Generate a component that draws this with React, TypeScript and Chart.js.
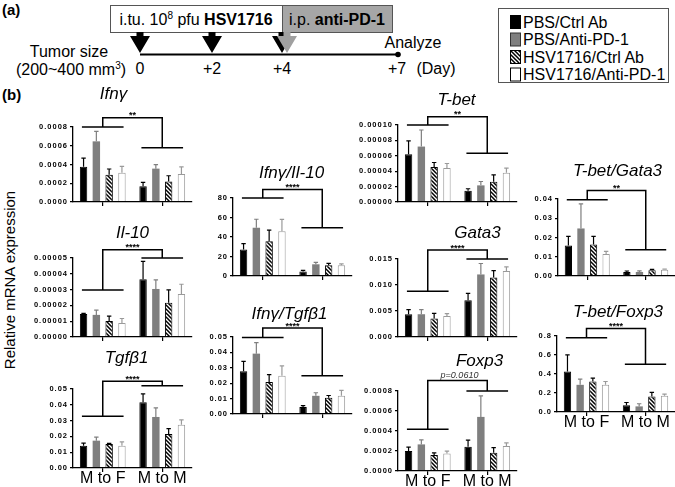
import React, { useEffect, useRef } from 'react';
import { Chart, registerables } from 'chart.js';

Chart.register(...registerables);

const FONT = '"Liberation Sans", Arial, Helvetica, sans-serif';

// ---------- data ----------
const groups = ['M to F', 'M to M'];
const seriesNames = ['PBS/Ctrl Ab', 'PBS/Anti-PD-1', 'HSV1716/Ctrl Ab', 'HSV1716/Anti-PD-1'];
const timelineDays = ['0', '+2', '+4', '+7'];

// values are [series][group]
const ifngMean = [[0.000377, 0.000167], [0.000647, 0.000356], [0.000292, 0.00022], [0.000313, 0.000299]];
const ifngErr = [[0.000092, 0.000043], [0.000107, 0.000042], [0.00006, 0.00006], [0.000067, 0.000075]];
const ifngBracket = [0.0008, 0.0009, 0.00058];
const ifngTicks = ['0.0000', '0.0002', '0.0004', '0.0006', '0.0008'];

const il10Mean = [[0.0000145, 0.0000366], [0.000014, 0.0000304], [0.0000102, 0.0000217], [0.0000089, 0.0000272]];
const il10Err = [[0.0000005, 0.0000113], [0.000003, 0.0000058], [0.000003, 0.0000081], [0.0000028, 0.0000062]];
const il10Bracket = [0.0000298, 0.0000553, 0.00005];
const il10Ticks = ['0.00000', '0.00001', '0.00002', '0.00003', '0.00004', '0.00005'];

const tgfMean = [[0.0141, 0.0416], [0.0173, 0.0323], [0.0152, 0.0215], [0.0141, 0.0274]];
const tgfErr = [[0.0017, 0.0053], [0.0023, 0.0057], [0.0004, 0.0034], [0.0024, 0.003]];
const tgfBracket = [0.0327, 0.0549, 0.0521];
const tgfTicks = ['0.00', '0.01', '0.02', '0.03', '0.04', '0.05'];

const ifngIl10Mean = [[27.3, 4.5], [49.5, 12], [35.6, 11], [46, 11]];
const ifngIl10Err = [[6, 1.2], [8.7, 2], [11.4, 2], [12, 1.5]];
const ifngIl10Bracket = [80, 88.6, 49.5];
const ifngIl10Ticks = ['0', '20', '40', '60', '80'];

const ifngTgfMean = [[0.0277, 0.0045], [0.0392, 0.0118], [0.0208, 0.0105], [0.0249, 0.0118]];
const ifngTgfErr = [[0.0065, 0.001], [0.0071, 0.002], [0.0048, 0.0015], [0.0063, 0.0036]];
const ifngTgfBracket = [0.0496, 0.0558, 0.0249];
const ifngTgfTicks = ['0.00', '0.01', '0.02', '0.03', '0.04', '0.05'];

const tbetMean = [[0.000062, 0.0000147], [0.000072, 0.0000216], [0.0000453, 0.0000263], [0.000044, 0.0000379]];
const tbetErr = [[0.0000173, 0.0000025], [0.0000215, 0.000005], [0.000006, 0.000009], [0.000006, 0.000006]];
const tbetBracket = [0.0001, 0.0001108, 0.0000634];
const tbetTicks = ['0.00000', '0.00002', '0.00004', '0.00006', '0.00008', '0.00010'];

const gata3Mean = [[0.00438, 0.00708], [0.00438, 0.01203], [0.00354, 0.01145], [0.00405, 0.01268]];
const gata3Err = [[0.0009, 0.0013], [0.0009, 0.0021], [0.001, 0.0013], [0.00045, 0.0008]];
const gata3Bracket = [0.00882, 0.01673, 0.015];
const gata3Ticks = ['0.000', '0.005', '0.010', '0.015'];

const foxp3Mean = [[0.000199, 0.000242], [0.000266, 0.000541], [0.000159, 0.000183], [0.000176, 0.000249]];
const foxp3Err = [[0.00004, 0.000067], [0.000046, 0.00021], [0.000023, 0.00005], [0.000023, 0.000033]];
const foxp3Bracket = [0.000418, 0.000906, 0.0008];
const foxp3Ticks = ['0.0000', '0.0002', '0.0004', '0.0006', '0.0008'];

const tbetGataMean = [[0.0158, 0.0021], [0.0247, 0.0021], [0.0164, 0.003], [0.0114, 0.0033]];
const tbetGataErr = [[0.0048, 0.0005], [0.0128, 0.0006], [0.0042, 0.0004], [0.0014, 0.0003]];
const tbetGataBracket = [0.0396, 0.0444, 0.0137];
const tbetGataTicks = ['0.00', '0.01', '0.02', '0.03', '0.04'];

const tbetFoxMean = [[0.426, 0.07], [0.286, 0.059], [0.321, 0.164], [0.286, 0.171]];
const tbetFoxErr = [[0.175, 0.03], [0.06, 0.028], [0.035, 0.042], [0.035, 0.018]];
const tbetFoxBracket = [0.782, 0.88, 0.503];
const tbetFoxTicks = ['0.0', '0.2', '0.4', '0.6', '0.8'];

// ---------- panel table (layout separate from data) ----------
type PanelSpec = {
  title: string;
  sig: string;
  mean: number[][];
  err: number[][];
  bracket: number[];
  ticks: string[];
  box: number[]; // plot area left, top, right, bottom (page px)
  titleDx: number;
  titleDy: number;
  showX: boolean;
};

const panels: PanelSpec[] = [
  { title: 'Ifnγ', sig: '**', mean: ifngMean, err: ifngErr, bracket: ifngBracket, ticks: ifngTicks, box: [73, 127, 192, 202], titleDx: -19, titleDy: -28, showX: false },
  { title: 'Il-10', sig: '****', mean: il10Mean, err: il10Err, bracket: il10Bracket, ticks: il10Ticks, box: [73, 258, 192, 337], titleDx: 0, titleDy: -20, showX: false },
  { title: 'Tgfβ1', sig: '****', mean: tgfMean, err: tgfErr, bracket: tgfBracket, ticks: tgfTicks, box: [73, 389, 192, 468], titleDx: -6, titleDy: -26, showX: true },
  { title: 'Ifnγ/Il-10', sig: '****', mean: ifngIl10Mean, err: ifngIl10Err, bracket: ifngIl10Bracket, ticks: ifngIl10Ticks, box: [233, 198, 352, 276], titleDx: -1, titleDy: -20, showX: false },
  { title: 'Ifnγ/Tgfβ1', sig: '****', mean: ifngTgfMean, err: ifngTgfErr, bracket: ifngTgfBracket, ticks: ifngTgfTicks, box: [233, 337, 352, 414], titleDx: -3, titleDy: -18, showX: false },
  { title: 'T-bet', sig: '**', mean: tbetMean, err: tbetErr, bracket: tbetBracket, ticks: tbetTicks, box: [398, 125, 517, 202], titleDx: -1, titleDy: -20, showX: false },
  { title: 'Gata3', sig: '****', mean: gata3Mean, err: gata3Err, bracket: gata3Bracket, ticks: gata3Ticks, box: [398, 259, 517, 337], titleDx: 20, titleDy: -21, showX: false },
  { title: 'Foxp3', sig: 'p=0.0610', mean: foxp3Mean, err: foxp3Err, bracket: foxp3Bracket, ticks: foxp3Ticks, box: [398, 391, 517, 471], titleDx: 22, titleDy: -25, showX: true },
  { title: 'T-bet/Gata3', sig: '**', mean: tbetGataMean, err: tbetGataErr, bracket: tbetGataBracket, ticks: tbetGataTicks, box: [558, 199, 675, 276], titleDx: 1, titleDy: -23, showX: false },
  { title: 'T-bet/Foxp3', sig: '****', mean: tbetFoxMean, err: tbetFoxErr, bracket: tbetFoxBracket, ticks: tbetFoxTicks, box: [557, 336, 675, 412], titleDx: 2, titleDy: -19, showX: true },
];

const fillColors = ['#000000', '#7f7f7f', 'HATCH', '#ffffff'];
const borderColors = ['#000000', '#7f7f7f', '#000000', '#9a9a9a'];
const errColors = ['#000000', '#7f7f7f', '#000000', '#9a9a9a'];

function makeHatch(): CanvasPattern | string {
  const c = document.createElement('canvas');
  c.width = 4;
  c.height = 4;
  const g = c.getContext('2d');
  if (!g) return '#444';
  g.fillStyle = '#fff';
  g.fillRect(0, 0, 4, 4);
  g.strokeStyle = '#000';
  g.lineWidth = 1.5;
  g.beginPath();
  g.moveTo(-1, -1); g.lineTo(5, 5);
  g.moveTo(-1, 3); g.lineTo(1, 5);
  g.moveTo(3, -1); g.lineTo(5, 1);
  g.stroke();
  const p = g.createPattern(c, 'repeat');
  return p || '#444';
}

const Y_AXIS_W = 70;
const PAD_TOP = 48;
const X_AXIS_H = 28;
const PAD_RIGHT = 6;

function Panel({ spec }: { spec: PanelSpec }) {
  const ref = useRef<HTMLCanvasElement | null>(null);
  const [l, t, r, b] = spec.box;
  const W = Y_AXIS_W + (r - l) + PAD_RIGHT;
  const H = PAD_TOP + (b - t) + X_AXIS_H;

  useEffect(() => {
    if (!ref.current) return;
    const hatch = makeHatch();
    const tickVals = spec.ticks.map((s) => Number(s));
    const yMax = tickVals[tickVals.length - 1];

    const deco = {
      id: 'deco',
      beforeDraw(chart: any) {
        chart.ctx.letterSpacing = '1px';
      },
      beforeDatasetsDraw(chart: any) {
        chart.ctx.letterSpacing = '0px';
      },
      afterDraw(chart: any) {
        const ctx = chart.ctx as CanvasRenderingContext2D;
        const xs = chart.scales.x;
        const ys = chart.scales.y;
        const area = chart.chartArea;
        ctx.save();
        (ctx as any).letterSpacing = '0px';
        // error bars (upper only)
        chart.data.datasets.forEach((_ds: any, i: number) => {
          const meta = chart.getDatasetMeta(i);
          meta.data.forEach((el: any, j: number) => {
            const m = spec.mean[i][j];
            const e = spec.err[i][j];
            const yTop = ys.getPixelForValue(m + e);
            ctx.strokeStyle = errColors[i];
            ctx.lineWidth = 1.2;
            ctx.beginPath();
            ctx.moveTo(el.x, el.y);
            ctx.lineTo(el.x, yTop);
            ctx.moveTo(el.x - 2.2, yTop);
            ctx.lineTo(el.x + 2.2, yTop);
            ctx.stroke();
          });
        });
        // significance bracket
        const c0 = xs.getPixelForValue(0);
        const c1 = xs.getPixelForValue(1);
        const half = (c1 - c0) * 0.35;
        const yL = ys.getPixelForValue(spec.bracket[0]);
        const yT = ys.getPixelForValue(spec.bracket[1]);
        const yR = ys.getPixelForValue(spec.bracket[2]);
        ctx.strokeStyle = '#000';
        ctx.lineWidth = 1.5;
        ctx.beginPath();
        ctx.moveTo(c0 - half, yL); ctx.lineTo(c0 + half, yL);
        ctx.moveTo(c0, yL); ctx.lineTo(c0, yT); ctx.lineTo(c1, yT); ctx.lineTo(c1, yR);
        ctx.moveTo(c1 - half, yR); ctx.lineTo(c1 + half, yR);
        ctx.stroke();
        ctx.textAlign = 'center';
        ctx.textBaseline = 'alphabetic';
        if (spec.sig.startsWith('p')) {
          ctx.fillStyle = '#333';
          ctx.font = `italic 9px ${FONT}`;
          ctx.fillText(spec.sig, (c0 + c1) / 2 + 2, yT - 2);
        } else {
          ctx.fillStyle = '#000';
          ctx.font = `bold 9px ${FONT}`;
          ctx.fillText(spec.sig, (c0 + c1) / 2, yT + 0.5);
        }
        // title
        ctx.fillStyle = '#000';
        ctx.font = `italic 17px ${FONT}`;
        ctx.fillText(spec.title, (area.left + area.right) / 2 + spec.titleDx, area.top + spec.titleDy);
        ctx.restore();
      },
    };

    const chart = new Chart(ref.current, {
      type: 'bar',
      data: {
        labels: groups,
        datasets: spec.mean.map((vals, i) => ({
          label: seriesNames[i],
          data: vals,
          backgroundColor: fillColors[i] === 'HATCH' ? (hatch as any) : fillColors[i],
          borderColor: borderColors[i],
          borderWidth: i === 1 ? 0 : 1,
          categoryPercentage: 0.86,
          barPercentage: 0.58,
        })),
      },
      options: {
        responsive: false,
        maintainAspectRatio: false,
        animation: false,
        devicePixelRatio: 1,
        layout: { padding: { top: PAD_TOP, right: PAD_RIGHT, left: 0, bottom: 0 } },
        plugins: { legend: { display: false }, tooltip: { enabled: false }, title: { display: false } },
        scales: {
          x: {
            type: 'category',
            offset: true,
            grid: { display: true, drawOnChartArea: false, drawTicks: true, tickLength: 4, offset: false, color: '#000', lineWidth: 1.2, z: 1 },
            border: { display: true, color: '#000', width: 1.3, z: 1 },
            ticks: { display: spec.showX, z: 1, color: '#000', font: { family: FONT, size: 16 }, padding: -3, maxRotation: 0, autoSkip: false },
            afterFit: (s: any) => { s.height = X_AXIS_H; },
          },
          y: {
            type: 'linear',
            min: 0,
            max: yMax,
            afterBuildTicks: (s: any) => { s.ticks = tickVals.map((v) => ({ value: v })); },
            grid: { display: true, drawOnChartArea: false, drawTicks: true, tickLength: 3, color: '#000', lineWidth: 1.2 },
            border: { display: true, color: '#000', width: 1.3 },
            ticks: {
              color: '#000',
              font: { family: FONT, size: 7.5, weight: 'bold' },
              padding: 2,
              callback: (_v: any, idx: number) => spec.ticks[idx],
            },
            afterFit: (s: any) => { s.width = Y_AXIS_W; },
          },
        },
      } as any,
      plugins: [deco as any],
    });
    return () => chart.destroy();
  }, [spec]);

  return (
    <canvas
      ref={ref}
      width={W}
      height={H}
      style={{ position: 'absolute', left: l - Y_AXIS_W, top: t - PAD_TOP, width: W, height: H }}
    />
  );
}

function Overlay() {
  const dayX = [140, 212, 282, 397];
  const arrowX = [140, 212, 282];
  const arrow = (x: number, fill: string, key: string) => (
    <path
      key={key}
      d={`M${x - 3.5},32 L${x + 3.5},32 L${x + 3.5},36 L${x + 10},36 L${x},53 L${x - 10},36 L${x - 3.5},36 Z`}
      fill={fill}
    />
  );
  const rowY = [22, 39.5, 57, 74.5];
  return (
    <svg width={675} height={487} style={{ position: 'absolute', left: 0, top: 0 }} fontFamily={FONT}>
      <defs>
        <pattern id="hatchPat" width="4" height="4" patternUnits="userSpaceOnUse">
          <rect width="4" height="4" fill="#fff" />
          <path d="M-1,-1 L5,5 M-1,3 L1,5 M3,-1 L5,1" stroke="#000" strokeWidth="1.5" />
        </pattern>
      </defs>
      <text x={2} y={15} fontSize={15} fontWeight="bold">(a)</text>
      <rect x={110.5} y={5.5} width={172} height={27} fill="#fff" stroke="#555" />
      <rect x={282.5} y={5.5} width={110} height={27} fill="#a6a6a6" stroke="#555" />
      <text x={196} y={25} fontSize={16} textAnchor="middle">
        i.tu. 10<tspan dy={-6} fontSize={10}>8</tspan>
        <tspan dy={6}> pfu </tspan>
        <tspan fontWeight="bold">HSV1716</tspan>
      </text>
      <text x={337} y={25} fontSize={16} textAnchor="middle">
        i.p. <tspan fontWeight="bold">anti-PD-1</tspan>
      </text>
      <line x1={140} y1={54.5} x2={398} y2={54.5} stroke="#000" strokeWidth={2} />
      <circle cx={398} cy={54.5} r={2.8} fill="#000" />
      {arrowX.map((x, i) => arrow(x, '#000', 'a' + i))}
      {arrow(287, '#a0a0a0', 'g')}
      <text x={69} y={57} fontSize={16} textAnchor="middle">Tumor size</text>
      <text x={71} y={75} fontSize={16} textAnchor="middle">
        (200~400 mm<tspan dy={-6} fontSize={10}>3</tspan><tspan dy={6}>)</tspan>
      </text>
      {timelineDays.map((d, i) => (
        <text key={d} x={dayX[i]} y={74} fontSize={16} textAnchor="middle">{d}</text>
      ))}
      <text x={436} y={74} fontSize={16} textAnchor="middle">(Day)</text>
      <text x={413} y={48} fontSize={16} textAnchor="middle">Analyze</text>

      <rect x={498.5} y={8.5} width={170} height={74} fill="#fff" stroke="#555" />
      {seriesNames.map((n, i) => (
        <g key={n}>
          <rect
            x={510.5}
            y={rowY[i] - 6.5}
            width={10}
            height={13}
            fill={i === 0 ? '#000' : i === 1 ? '#7f7f7f' : i === 2 ? 'url(#hatchPat)' : '#fff'}
            stroke={i === 1 ? '#333' : '#000'}
          />
          <text x={523} y={rowY[i] + 5.5} fontSize={16}>{n}</text>
        </g>
      ))}

      <text x={2} y={100} fontSize={15} fontWeight="bold">(b)</text>
      <text transform="translate(15,280) rotate(-90)" fontSize={15} textAnchor="middle">Relative mRNA expression</text>
    </svg>
  );
}

export default function App() {
  return (
    <div style={{ position: 'absolute', left: 0, top: 0, width: 675, height: 487, overflow: 'hidden', background: '#fff' }}>
      <Overlay />
      {panels.map((p) => (
        <Panel key={p.title} spec={p} />
      ))}
    </div>
  );
}
